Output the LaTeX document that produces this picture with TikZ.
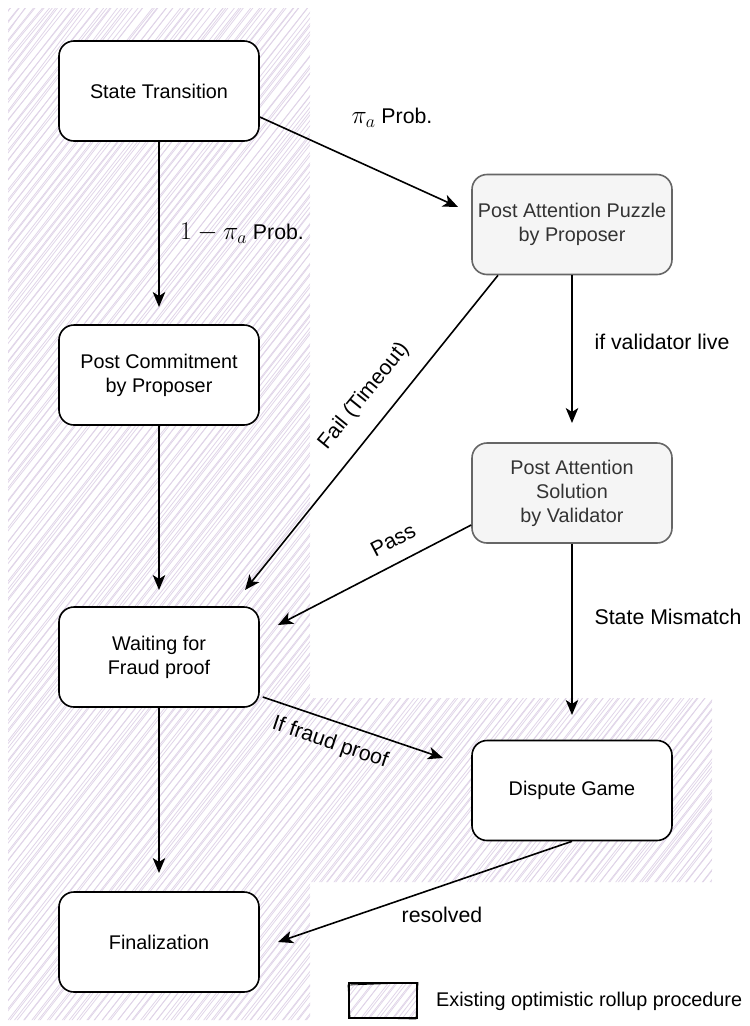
\documentclass[tikz,border=0pt]{standalone}
\usepackage{fix-cm}
\usepackage[no-math]{fontspec}
\setmainfont{Liberation Sans}
\usetikzlibrary{arrows.meta,calc}
\definecolor{hatch}{HTML}{E0D4E8}
\definecolor{grayfill}{HTML}{F5F5F5}
\definecolor{graystroke}{HTML}{666666}
\definecolor{graytext}{HTML}{333333}
\newcommand{\mth}[1]{{\fontsize{25.6}{30}\selectfont$#1$}}
\begin{document}
\begin{tikzpicture}[x=1pt,y=-1pt,
  every node/.style={font=\fontsize{19.8}{24}\selectfont},
  box/.style={draw=black, fill=white, line width=1.6pt, rounded corners=15pt, minimum width=200pt, minimum height=100pt, align=center, inner sep=0pt},
  graybox/.style={box, draw=graystroke, fill=grayfill, text=graytext},
  arr/.style={line width=1.6pt, -{Stealth[length=15pt,width=12.5pt,inset=4pt]}},
  lbl/.style={inner sep=0pt, align=center},
  elbl/.style={lbl, font=\fontsize{21.3}{25}\selectfont},
  hatchline/.style={draw=hatch, line width=0.75pt}
]
\fill[white] (0,0) rectangle (750,1026);
\useasboundingbox (0,0) rectangle (750,1026);

% hatched regions (sketch style)
\begin{scope}
\clip (8,8) rectangle (310,1020) (310,698) rectangle (712,882) (349,983) rectangle (417,1018);
\pgfmathsetseed{7}
\foreach \c in {0,10,...,1820} {
  \pgfmathsetmacro{\aa}{\c+2*rand}
  \pgfmathsetmacro{\bb}{\c/1.28+3*rand}
  \draw[hatchline] (0,\aa) -- (\bb,0);
  \pgfmathsetmacro{\aa}{\c+2*rand+2}
  \pgfmathsetmacro{\bb}{\c/1.28+3*rand+1.5}
  \draw[hatchline] (0,\aa) -- (\bb,0);
}
\end{scope}

\node[box] (st) at (159,91) {State Transition};
\node[graybox] (pz) at (572,224.5) {Post Attention Puzzle\\by Proposer};
\node[box] (pc) at (159,375) {Post Commitment\\by Proposer};
\node[graybox] (sol) at (572,493) {Post Attention\\Solution\\by Validator};
\node[box] (wt) at (159,657) {Waiting for\\Fraud proof};
\node[box] (dg) at (572,790.5) {Dispute Game};
\node[box] (fin) at (159,942) {Finalization};

\coordinate (t1) at (159,307);
\coordinate (t2) at (458,207);
\coordinate (t3) at (159,590);
\coordinate (t4) at (572,423);
\coordinate (t5) at (245,590);
\coordinate (t6) at (278,625);
\coordinate (t7) at (572,715);
\coordinate (t8) at (443,758);
\coordinate (t9) at (159,873);
\coordinate (t10) at (278,942);

\draw[arr] (st.south) -- (t1);
\draw[arr] ($(st.east)+(0,26)$) -- (t2);
\draw[arr] (pc.south) -- (t3);
\draw[arr] (pz.south) -- (t4);
\draw[arr] ($(pz.south)+(-74,0)$) -- (t5);
\draw[arr] ($(sol.west)+(0,32)$) -- (t6);
\draw[arr] (sol.south) -- (t7);
\draw[arr] ($(wt.east)+(3,40)$) -- (t8);
\draw[arr] (wt.south) -- (t9);
\draw[arr] (dg.south) -- (t10);

\node[elbl] (l1) at (392,118) {\mth{\pi_a} Prob.};
\node[elbl] (l2) at (242,233) {\mth{1-\pi_a} Prob.};
\node[elbl] (l3) at (662,342) {if validator live};
\node[elbl, rotate=51] (l4) at (364,396) {Fail (Timeout)};
\node[elbl, rotate=27.5] (l5) at (393,540) {Pass};
\node[elbl] (l6) at (668,617) {State Mismatch};
\node[elbl, rotate=-18.7] (l7) at (330,743) {If fraud proof};
\node[elbl] (l8) at (442,915) {resolved};

\draw[line width=1.4pt] (349,983) rectangle (417,1018);
\draw[line width=0.8pt] (348,985) -- (418,982.5) -- (416,1019) -- (350,1017.5) -- cycle;
\node[lbl, anchor=west] (lg) at (436,1001) {Existing optimistic rollup procedure};
\end{tikzpicture}
\end{document}
